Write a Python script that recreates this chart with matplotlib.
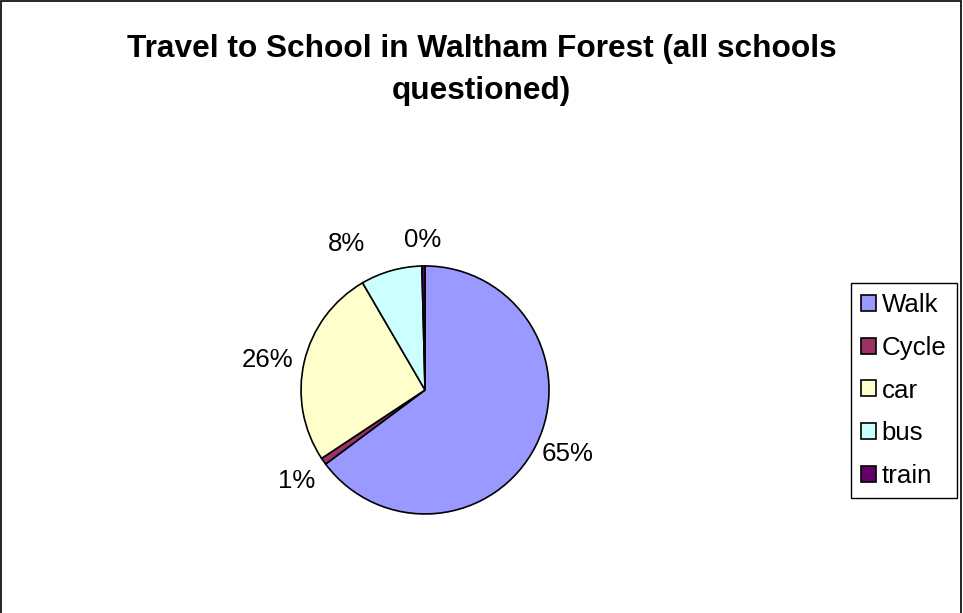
import matplotlib.pyplot as plt
from matplotlib.patches import Rectangle

plt.rcParams['font.family'] = ['Liberation Sans', 'DejaVu Sans']

# travel mode shares (percent)
modes = ['Walk', 'Cycle', 'car', 'bus', 'train']
shares = [64.8, 0.9, 25.9, 8.0, 0.4]
colours = ['#9999FF', '#993366', '#FFFFCC', '#CCFFFF', '#660066']

fig = plt.figure(figsize=(9.63, 6.13), dpi=100)

# chart area border (bottom edge runs off the image)
fig.patches.append(Rectangle((0.0015, -0.05), 0.996, 1.048, transform=fig.transFigure,
                             fill=False, edgecolor='black', linewidth=1.2))

fig.text(0.5, 0.944, 'Travel to School in Waltham Forest (all schools\nquestioned)',
         ha='center', va='top', fontsize=22.8, fontweight='bold', linespacing=1.5)

ax = fig.add_axes([0.2482, 0.0604, 0.3863, 0.6069])
wedges, texts, autotexts = ax.pie(shares, colors=colours, startangle=90, counterclock=False,
                                  autopct='%1.0f%%', pctdistance=1.27,
                                  wedgeprops={'edgecolor': 'black', 'linewidth': 1.2},
                                  textprops={'fontsize': 18.6})
ax.set_xlim(-1.5, 1.5)
ax.set_ylim(-1.5, 1.5)
ax.set_aspect('equal')

# nudge the small-slice labels apart
autotexts[0].set_position((1.15, -0.52))
autotexts[3].set_position((-0.63, 1.18))
autotexts[4].set_position((-0.02, 1.21))
autotexts[2].set_position((-1.27, 0.24))

fig.legend(wedges, modes, loc='upper left', bbox_to_anchor=(851 / 963, 1 - 283 / 613),
           borderaxespad=0, fontsize=18.6, frameon=True, fancybox=False, edgecolor='black',
           handlelength=0.58, handleheight=0.58, handletextpad=0.2, labelspacing=0.72,
           borderpad=0.4, framealpha=1)

fig.savefig('out.png', dpi=100)
